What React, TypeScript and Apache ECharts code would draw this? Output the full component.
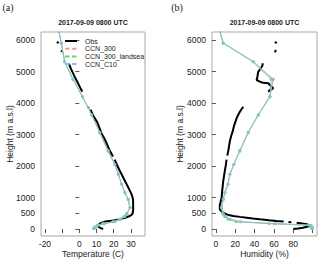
import React, { useEffect, useRef } from "react";
import * as echarts from "echarts";

const panelTitle = "2017-09-09 0800 UTC";
const yTitle = "Height (m a.s.l)";
const xTitles = ["Temperature (C)", "Humidity (%)"];
const seriesNames = ["Obs", "CCN_300", "CCN_300_landsea", "CCN_C10"];
const heightTicks = [0, 500, 1000, 2000, 3000, 4000, 5000, 6000];
const tempTicks = [-20, -10, 0, 10, 20, 30];
const tempLabels = [-20, 0, 10, 20, 30];
const humTicks = [0, 20, 40, 60, 80, 100];
const humLabels = [0, 20, 40, 60, 80];

// Observations: [value, height], null = gap
const obsTemp: ([number, number] | null)[] = [
  [13.8, 0], [12.5, 30], [11.2, 70], [10.9, 100], [11.5, 150], [12.9, 200], [15, 235], [17.7, 255],
  [20.6, 275], [23, 305], [25.5, 340], [27.5, 375], [29.4, 413], [30.6, 460], [31, 500], [31.3, 600],
  [31.3, 700], [31.3, 850], [31.2, 945], [30.8, 1030], [30.4, 1100], [29, 1260], [27.5, 1420],
  [26, 1580], [24.6, 1740], [23.2, 1880], [22.2, 2000], [21.2, 2120], [20.6, 2200], null,
  [19.6, 2300], [18.8, 2380], [17.7, 2480], [16, 2700], [14.5, 2880], [12.9, 3030], [12.2, 3140],
  [10.5, 3380], [8.5, 3560], [7, 3720], [6.5, 3790], null,
  [5.6, 3830], [5.0, 3870], null,
  [1.8, 4360], [1.2, 4410], [-1, 4650], [-3, 4870], [-5, 5100], [-5.7, 5200], [-6.2, 5250], null,
  [-10.5, 5620], [-10.1, 5670], null,
  [-13, 5946], [-12.1, 5895],
];

const obsHum: ([number, number] | null)[] = [
  [80, 0], [85, 15], [90, 40], [94, 70], [97, 95], [96, 125], [94, 150], [89, 175], [83.5, 200], null,
  [78, 215], [75, 225], null,
  [70, 240], [62.8, 254], [55, 275], [45.5, 308], [38, 335], [31.8, 360], [25, 385], [18, 413],
  [12, 455], [7.6, 518], [5.5, 570], [4.1, 625], [4, 700], [4.1, 760], [5, 880], [5.9, 995],
  [6.5, 1200], [7.6, 1520], [9, 1800], [10.4, 2050], [11, 2200], null,
  [11.8, 2330], [12.8, 2480], [14.5, 2800], [16.3, 3000], [17.3, 3090], [19, 3300], [21.4, 3510],
  [23, 3620], [24.8, 3720], [26.5, 3800], [28.3, 3880], null,
  [54.1, 4360], [55.9, 4413], [59.3, 4467], [57.6, 4517], [54.1, 4625], [49, 4640], [45.5, 4676],
  [42.1, 4730], [43, 4850], [43.8, 4995], [46.5, 5100], [48.3, 5206], [48.3, 5260], null,
  [61, 5610], [62, 5683], null,
  [61, 5946], [62.8, 5895],
];

// Model output levels
const modelHeights = [20, 60, 120, 170, 230, 310, 400, 480, 680, 940, 1150, 1420, 1740, 2050, 2480, 3060, 3620, 4200, 4750, 5310, 5900, 6500];
const tempCCN300 = [8.4, 9, 10.5, 13.8, 19.7, 23.6, 26, 27.5, 29.4, 28.4, 26.5, 24.6, 22.6, 20.6, 16.7, 11.9, 7.2, 1.8, -3.7, -8.6, -10.5, -12.9];
const tempLandsea = [8.8, 9.6, 11.2, 14.6, 20.6, 24.4, 26.6, 27.8, 29.5, 28.5, 26.6, 24.7, 22.7, 20.7, 16.8, 12.0, 7.3, 1.9, -3.6, -8.5, -10.4, -12.8];
const tempC10 = [8.3, 8.9, 10.4, 13.6, 19.5, 23.4, 25.9, 27.4, 29.4, 28.4, 26.5, 24.6, 22.6, 20.6, 16.7, 11.9, 7.2, 1.8, -3.7, -8.6, -10.5, -12.9];
const humCCN300 = [100, 99.5, 98, 60, 25, 14.5, 10, 7.6, 5.9, 7.6, 9.3, 12.5, 14.5, 18.6, 24.8, 33.4, 43.8, 55.4, 58.8, 38.6, 7.6, 2];
const humLandsea = [99, 98, 96, 55, 21, 12.5, 9, 7, 5.6, 7.4, 9.2, 12.4, 14.4, 18.5, 24.6, 33.2, 43.6, 55.9, 59.3, 39, 7.8, 2.2];
const humC10 = [100, 99.5, 98.5, 62, 26, 15, 10.5, 7.8, 6, 7.7, 9.4, 12.6, 14.6, 18.7, 24.9, 33.5, 43.9, 56.2, 57, 38.2, 7.4, 1.9];

const colors = { obs: "#000000", ccn300: "#f4a19b", landsea: "#6fd07a", c10: "#86bfe6" };
const FONT = "Liberation Sans, Arial, Helvetica, sans-serif";

function splitSegments(arr: ([number, number] | null)[]): [number, number][][] {
  const out: [number, number][][] = [];
  let cur: [number, number][] = [];
  arr.forEach((p) => {
    if (p === null) {
      if (cur.length) out.push(cur);
      cur = [];
    } else cur.push(p);
  });
  if (cur.length) out.push(cur);
  return out;
}

function pairs(vals: number[]): [number, number][] {
  return vals.map((v, i) => [v, modelHeights[i]]);
}

export default function App() {
  const ref = useRef<HTMLDivElement>(null);
  useEffect(() => {
    if (!ref.current) return;
    const chart = echarts.init(ref.current, null, { renderer: "svg" });

    const obsSeries = (arr: ([number, number] | null)[], idx: number) =>
      splitSegments(arr).map((seg) => ({
        type: "line",
        name: seriesNames[0],
        xAxisIndex: idx,
        yAxisIndex: idx,
        data: seg,
        showSymbol: false,
        symbol: "none",
        lineStyle: { color: colors.obs, width: 2 },
        z: 2,
      }));

    const modelSeries = (vals: number[], name: string, color: string, idx: number, z: number) => ({
      type: "line",
      name,
      xAxisIndex: idx,
      yAxisIndex: idx,
      data: pairs(vals),
      symbol: "circle",
      symbolSize: 3,
      showSymbol: true,
      lineStyle: { color, width: 1, opacity: 0.85 },
      itemStyle: { color, opacity: 0.85 },
      z,
    });

    const yAxisBase = (idx: number) => ({
      type: "value",
      gridIndex: idx,
      min: -222,
      max: 6254,
      axisLine: { show: false },
      axisTick: { show: true, length: 4, customValues: heightTicks, lineStyle: { color: "#555" } },
      axisLabel: {
        customValues: heightTicks,
        formatter: (v: number) => String(v),
        fontFamily: FONT,
        fontSize: 8.5,
        color: "#222",
        margin: 6,
      },
      splitLine: { show: false },
    });

    const xAxisBase = (idx: number, min: number, max: number, ticks: number[]) => ({
      type: "value",
      gridIndex: idx,
      min,
      max,
      axisLine: { show: false },
      axisTick: { show: true, length: 4, customValues: ticks, lineStyle: { color: "#555" } },
      axisLabel: { show: false },
      splitLine: { show: false },
    });

    const legendRows = [
      { name: seriesNames[0], color: colors.obs, dash: null as number[] | null, y: 41 },
      { name: seriesNames[1], color: colors.ccn300, dash: [4.5, 2.5], y: 48.7 },
      { name: seriesNames[2], color: colors.landsea, dash: [4.5, 2.5], y: 56.4 },
      { name: seriesNames[3], color: colors.c10, dash: [4.5, 2.5], y: 64.1 },
    ];
    const legendGraphics: any[] = [];
    legendRows.forEach((r, i) => {
      legendGraphics.push({
        type: "line",
        id: "legline" + i,
        shape: { x1: 65, y1: r.y, x2: 77, y2: r.y },
        style: { stroke: r.color, lineWidth: 2, lineDash: r.dash || undefined },
        z: 100,
      });
      legendGraphics.push({
        type: "text",
        id: "legtext" + i,
        x: 85,
        y: r.y,
        style: { text: r.name, fontFamily: FONT, fontSize: 7, fill: "#222", verticalAlign: "middle", align: "left" },
        z: 100,
      });
    });

    const txt = (id: string, text: string, x: number, y: number, extra: any = {}, rot = 0) => ({
      type: "text",
      id,
      x,
      y,
      rotation: rot,
      z: 200,
      style: { text, fontFamily: FONT, fontSize: 8.5, fill: "#222", align: "center", verticalAlign: "middle", ...extra },
    });

    chart.setOption({
      animation: false,
      backgroundColor: "#ffffff",
      grid: [
        { left: 41, top: 32, width: 104, height: 204, show: true, borderColor: "#a8a8a8", borderWidth: 1, backgroundColor: "transparent" },
        { left: 212, top: 32, width: 105, height: 204, show: true, borderColor: "#a8a8a8", borderWidth: 1, backgroundColor: "transparent" },
      ],
      xAxis: [
        xAxisBase(0, -22.3, 38.2, tempTicks),
        xAxisBase(1, -4, 104.5, humTicks),
      ],
      yAxis: [yAxisBase(0), yAxisBase(1)],
      series: [
        ...obsSeries(obsTemp, 0),
        modelSeries(tempCCN300, seriesNames[1], colors.ccn300, 0, 3),
        modelSeries(tempLandsea, seriesNames[2], colors.landsea, 0, 4),
        modelSeries(tempC10, seriesNames[3], colors.c10, 0, 5),
        ...obsSeries(obsHum, 1),
        modelSeries(humCCN300, seriesNames[1], colors.ccn300, 1, 3),
        modelSeries(humLandsea, seriesNames[2], colors.landsea, 1, 4),
        modelSeries(humC10, seriesNames[3], colors.c10, 1, 5),
      ],
    } as any);

    // x-axis tick labels placed through the axes' own scales
    const xLabelGraphics: any[] = [];
    tempLabels.forEach((v, i) => {
      const p = chart.convertToPixel({ xAxisIndex: 0 } as any, v) as unknown as number;
      xLabelGraphics.push(txt("tl" + i, String(v), p, 243.5));
    });
    humLabels.forEach((v, i) => {
      const p = chart.convertToPixel({ xAxisIndex: 1 } as any, v) as unknown as number;
      xLabelGraphics.push(txt("hl" + i, String(v), p, 243.5));
    });

    chart.setOption({
      graphic: [
        txt("pa", "(a)", 8, 7, { fontFamily: "Liberation Serif, Times New Roman, serif", fontSize: 10 }),
        txt("pb", "(b)", 177, 7, { fontFamily: "Liberation Serif, Times New Roman, serif", fontSize: 10 }),
        txt("ta", panelTitle, 93, 22, { fontSize: 7, fontWeight: "bold" }),
        txt("tb", panelTitle, 264.5, 22, { fontSize: 7, fontWeight: "bold" }),
        txt("xa", xTitles[0], 93, 254),
        txt("xb", xTitles[1], 264.5, 254),
        txt("ya", yTitle, 10, 134, {}, Math.PI / 2),
        txt("yb", yTitle, 180, 134, {}, Math.PI / 2),
        ...xLabelGraphics,
        ...legendGraphics,
      ],
    } as any);

    return () => chart.dispose();
  }, []);

  return (
    <div
      ref={ref}
      style={{ position: "fixed", left: 0, top: 0, width: 320, height: 262, background: "#fff" }}
    />
  );
}
